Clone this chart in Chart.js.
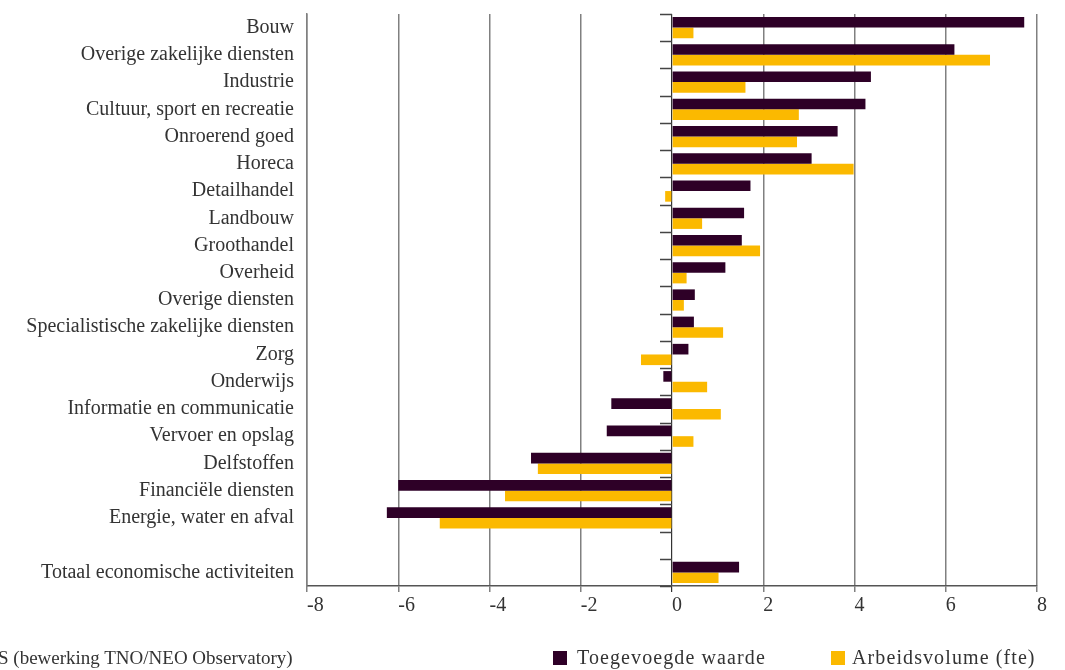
<!DOCTYPE html>
<html>
<head>
<meta charset="utf-8">
<script src="https://cdn.jsdelivr.net/npm/chart.js@4.4.1/dist/chart.umd.min.js"></script>
<style>
  body { margin: 0; background: #fff; }
  #wrap { position: relative; width: 1065px; height: 670px; overflow: hidden; }
  .txt { position: absolute; font-family: 'Liberation Serif', serif; font-size: 19px; color: #333; white-space: nowrap; }
  .leg { font-size: 20px; letter-spacing: 1.1px; }
  .box { position: absolute; width: 14px; height: 14px; }
</style>
</head>
<body>
<div id="wrap">
  <canvas id="chart" width="1065" height="670"></canvas>
  <div class="txt" style="left:-2px; top:647px;">S (bewerking TNO/NEO Observatory)</div>
  <div class="box" style="left:553px; top:651px; background:#2e0027;"></div>
  <div class="txt leg" style="left:577px; top:646px;">Toegevoegde waarde</div>
  <div class="box" style="left:831px; top:651px; background:#fbb900;"></div>
  <div class="txt leg" style="left:852px; top:646px;">Arbeidsvolume (fte)</div>
</div>
<script>
const categories = [
  'Bouw', 'Overige zakelijke diensten', 'Industrie', 'Cultuur, sport en recreatie',
  'Onroerend goed', 'Horeca', 'Detailhandel', 'Landbouw', 'Groothandel', 'Overheid',
  'Overige diensten', 'Specialistische zakelijke diensten', 'Zorg', 'Onderwijs',
  'Informatie en communicatie', 'Vervoer en opslag', 'Delfstoffen', 'Financiële diensten',
  'Energie, water en afval', '', 'Totaal economische activiteiten'
];
const toegevoegdeWaarde = [7.72, 6.19, 4.36, 4.24, 3.63, 3.06, 1.72, 1.58, 1.53, 1.17, 0.50, 0.48, 0.36, -0.19, -1.33, -1.43, -3.09, -6.0, -6.25, null, 1.47];
const arbeidsvolume = [0.47, 6.97, 1.61, 2.78, 2.74, 3.98, -0.15, 0.66, 1.93, 0.32, 0.26, 1.12, -0.68, 0.77, 1.07, 0.47, -2.94, -3.66, -5.09, null, 1.02];
const xTicks = [-8, -6, -4, -2, 0, 2, 4, 6, 8];

const labelFont = { family: 'Liberation Serif', size: 20 };

// small tick marks left of the zero line, between the categories
const zeroTicks = {
  id: 'zeroTicks',
  afterDraw(chart) {
    const x = chart.scales.x, y = chart.scales.y;
    const x0 = x.getPixelForValue(0);
    const ctx = chart.ctx;
    ctx.save();
    ctx.strokeStyle = '#444';
    ctx.lineWidth = 1.5;
    ctx.beginPath();
    for (let i = 0; i <= categories.length; i++) {
      const py = Math.round(y.getPixelForValue(i - 0.5)) + 0.5;
      ctx.moveTo(x0 - 12, py);
      ctx.lineTo(x0, py);
    }
    ctx.stroke();
    ctx.restore();
  }
};

new Chart(document.getElementById('chart'), {
  type: 'bar',
  data: {
    labels: categories,
    datasets: [{
      label: 'Toegevoegde waarde',
      data: toegevoegdeWaarde,
      backgroundColor: '#2e0027'
    }, {
      label: 'Arbeidsvolume (fte)',
      data: arbeidsvolume,
      backgroundColor: '#fbb900'
    }]
  },
  options: {
    indexAxis: 'y',
    responsive: false,
    animation: false,
    layout: { padding: { top: 14, right: 28, bottom: 44, left: 0 } },
    datasets: { bar: { categoryPercentage: 0.78, barPercentage: 1 } },
    plugins: {
      legend: { display: false },
      tooltip: { enabled: false }
    },
    scales: {
      x: {
        min: -8,
        max: 8,
        afterBuildTicks: s => { s.ticks = xTicks.map(v => ({ value: v })); },
        afterFit: s => { s.height = 40; s.paddingLeft = 0; s.paddingRight = 0; },
        grid: {
          color: c => (c.tick && c.tick.value === 0) ? '#333' : '#808080',
          lineWidth: c => (c.tick && c.tick.value === 0) ? 1.2 : 1.5,
          tickLength: 6
        },
        border: { display: true, color: '#555', width: 1.5 },
        ticks: { align: 'start', padding: 2, color: '#333', font: labelFont }
      },
      y: {
        afterFit: s => { s.width = 307; s.paddingTop = 0; s.paddingBottom = 0; },
        grid: { display: false, drawTicks: false },
        border: { display: true, color: '#808080', width: 1.5 },
        ticks: { padding: 13, color: '#333', font: labelFont }
      }
    }
  },
  plugins: [zeroTicks]
});
</script>
</body>
</html>
